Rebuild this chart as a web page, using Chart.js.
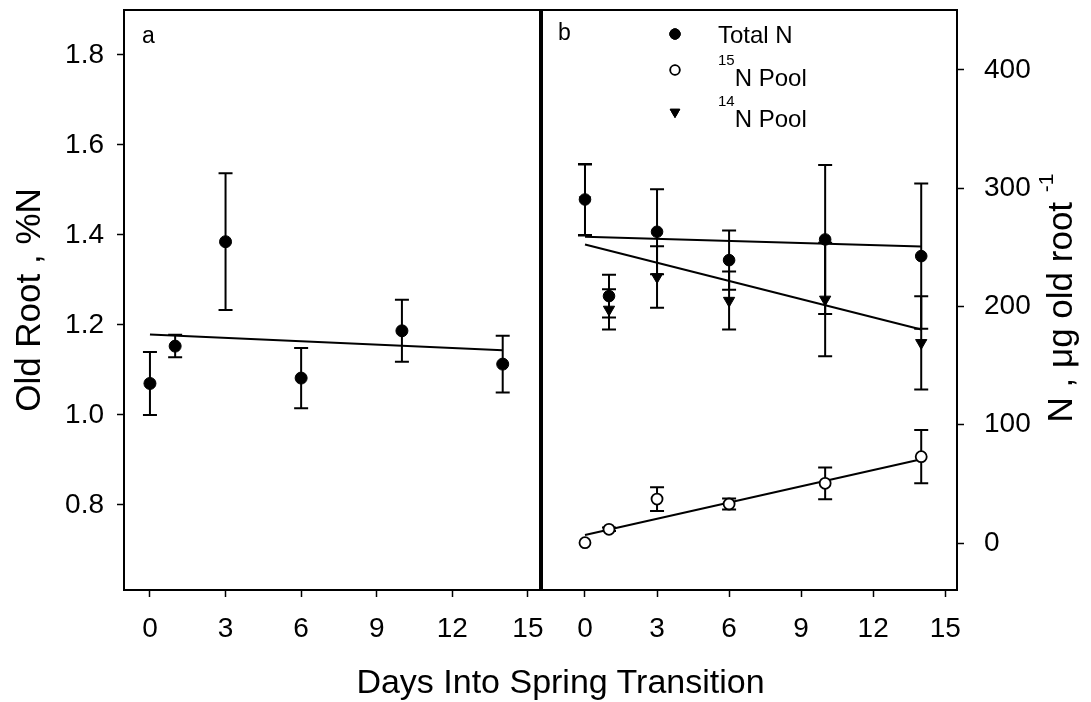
<!DOCTYPE html>
<html>
<head>
<meta charset="utf-8">
<script src="https://cdn.jsdelivr.net/npm/chart.js@4.4.1/dist/chart.umd.min.js"></script>
<style>
html,body{margin:0;padding:0;background:#fff;}
#wrap{position:relative;width:1091px;height:702px;overflow:hidden;background:#fff;}
#c1{position:absolute;left:0;top:0;}
#c2{position:absolute;left:520px;top:0;}
#xt{position:absolute;left:0;width:1121px;top:664px;line-height:1;text-align:center;font-family:"Liberation Sans",Arial,sans-serif;font-size:34px;color:#000;white-space:nowrap;}
</style>
</head>
<body>
<div id="wrap">
<canvas id="c1" width="560" height="702" style="width:560px;height:702px"></canvas>
<canvas id="c2" width="571" height="702" style="width:571px;height:702px"></canvas>
<div id="xt">Days Into Spring Transition</div>
</div>
<script>
// ---------- data ----------
const days = [0, 1, 3, 6, 10, 14];
const fitDays = [0, 14];
const xTicks = [0, 3, 6, 9, 12, 15];
const leftYTicks = [0.8, 1.0, 1.2, 1.4, 1.6, 1.8];
const rightYTicks = [0, 100, 200, 300, 400];

// panel a: old root %N
const pctN    = [1.070, 1.153, 1.385, 1.082, 1.187, 1.113];
const pctNErr = [0.070, 0.025, 0.152, 0.067, 0.069, 0.063];
const pctNFit = [1.179, 1.144];

// panel b: N, ug old root^-1
const totalN    = [290.5, 208.8, 263.2, 239.2, 256.7, 242.6];
const totalNErr = [30, 18, 36, 25, 63, 61.5];
const totalNFit = [258.9, 250.8];
const n15    = [0.3, 11.6, 37.2, 33.0, 50.5, 73.0];
const n15Err = [0, 1.5, 10, 4.7, 13.4, 22.5];
const n15Fit = [6.8, 70.8];
const n14    = [290.0, 197.5, 225.0, 205.0, 206.0, 169.3];
const n14Err = [30, 17, 26, 24.5, 48, 39.4];
const n14Fit = [252.5, 180.6];

const FONT = "'Liberation Sans', Arial, sans-serif";

function pts(xs, ys) { return xs.map((x, i) => ({x: x, y: ys[i]})); }

// ---------- plugins ----------
const errorBarPlugin = {
  id: 'errBars',
  beforeDatasetsDraw(chart) {
    const ctx = chart.ctx, ys = chart.scales.y, cap = 7;
    chart.data.datasets.forEach((ds, i) => {
      if (!ds.errors) return;
      const meta = chart.getDatasetMeta(i);
      ctx.save();
      ctx.strokeStyle = '#000';
      ctx.lineWidth = 2;
      meta.data.forEach((pt, j) => {
        const e = ds.errors[j];
        if (!e) return;
        const v = ds.data[j].y;
        const yT = ys.getPixelForValue(v + e), yB = ys.getPixelForValue(v - e);
        const x = pt.x;
        ctx.beginPath();
        ctx.moveTo(x, yT); ctx.lineTo(x, yB);
        ctx.moveTo(x - cap, yT); ctx.lineTo(x + cap, yT);
        ctx.moveTo(x - cap, yB); ctx.lineTo(x + cap, yB);
        ctx.stroke();
      });
      ctx.restore();
    });
  }
};

const framePlugin = {
  id: 'frame',
  afterDraw(chart) {
    const {ctx, chartArea: a} = chart;
    ctx.save();
    ctx.strokeStyle = '#000';
    ctx.lineWidth = 2;
    ctx.strokeRect(a.left, a.top, a.right - a.left, a.bottom - a.top);
    ctx.restore();
  }
};

function panelLabelPlugin(text, x, y) {
  return {
    id: 'panelLabel',
    afterDraw(chart) {
      const ctx = chart.ctx;
      ctx.save();
      ctx.fillStyle = '#000';
      ctx.font = '23px ' + FONT;
      ctx.textBaseline = 'alphabetic';
      ctx.fillText(text, x, y);
      ctx.restore();
    }
  };
}

const legendPlugin = {
  id: 'customLegend',
  afterDraw(chart) {
    const ctx = chart.ctx;
    const items = chart.data.datasets.filter(d => d.legendRow !== undefined);
    items.forEach(ds => {
      const r = ds.legendRow;
      ctx.save();
      Chart.helpers.drawPoint(ctx, {
        pointStyle: ds.pointStyle, rotation: ds.rotation || 0,
        radius: ds.legendRadius, borderWidth: ds.borderWidth
      }, r.mx, r.my);
      ctx.fillStyle = ds.pointBackgroundColor;
      ctx.strokeStyle = ds.pointBorderColor;
      ctx.lineWidth = ds.borderWidth;
      ctx.fill();
      ctx.stroke();
      ctx.restore();
      ctx.save();
      ctx.fillStyle = '#000';
      ctx.textBaseline = 'alphabetic';
      let x = r.tx;
      const m = ds.label.match(/^(\d+)(.*)$/);
      if (m) {
        ctx.font = '15px ' + FONT;
        ctx.fillText(m[1], x, r.sy);
        x += ctx.measureText(m[1]).width;
        ctx.font = '24px ' + FONT;
        ctx.fillText(m[2], x, r.ty);
      } else {
        ctx.font = '24px ' + FONT;
        ctx.fillText(ds.label, x, r.ty);
      }
      ctx.restore();
    });
  }
};

const rightTitlePlugin = {
  id: 'rightTitle',
  afterDraw(chart) {
    const ctx = chart.ctx;
    const main = 'N , \u03bcg old root ', sup = '-1';
    ctx.save();
    ctx.fillStyle = '#000';
    ctx.translate(542, 298);
    ctx.rotate(-Math.PI / 2);
    ctx.textBaseline = 'middle';
    ctx.font = '35px ' + FONT;
    const w1 = ctx.measureText(main).width;
    ctx.font = '21px ' + FONT;
    const w2 = ctx.measureText(sup).width;
    let x = -(w1 + w2) / 2;
    ctx.font = '35px ' + FONT;
    ctx.fillText(main, x, 0);
    ctx.font = '21px ' + FONT;
    ctx.fillText(sup, x + w1, -15);
    ctx.restore();
  }
};

function noPad(s) { s.paddingTop = 0; s.paddingBottom = 0; s.paddingLeft = 0; s.paddingRight = 0; }

// ---------- common scale options ----------
function xScale(min, max) {
  return {
    type: 'linear', min: min, max: max,
    afterBuildTicks: s => { s.ticks = xTicks.map(v => ({value: v})); },
    afterFit: s => { s.height = 112; noPad(s); },
    grid: {drawOnChartArea: false, drawTicks: true, tickLength: 7, tickWidth: 1.5, tickColor: '#000'},
    border: {display: false},
    ticks: {color: '#000', font: {family: FONT, size: 28}, padding: 15, maxRotation: 0, autoSkip: false}
  };
}

Chart.defaults.animation = false;

// ---------- panel a ----------
new Chart(document.getElementById('c1'), {
  type: 'scatter',
  data: {
    datasets: [
      {label: '%N', data: pts(days, pctN), errors: pctNErr, order: 1,
       pointStyle: 'circle', pointRadius: 6, pointBackgroundColor: '#000', pointBorderColor: '#000', borderWidth: 1},
      {type: 'line', label: 'fit', data: pts(fitDays, pctNFit), order: 10, showLine: true,
       borderColor: '#000', borderWidth: 2, pointRadius: 0, fill: false}
    ]
  },
  options: {
    responsive: false, devicePixelRatio: 1, animation: false,
    layout: {padding: {left: 0, right: 20, top: 10, bottom: 0}},
    plugins: {legend: {display: false}, tooltip: {enabled: false}},
    scales: {
      x: xScale(-1.03, 15.48),
      y: {
        type: 'linear', position: 'left', min: 0.611, max: 1.9,
        afterBuildTicks: s => { s.ticks = leftYTicks.map(v => ({value: v})); },
        afterFit: s => { s.width = 124; noPad(s); },
        grid: {drawOnChartArea: false, drawTicks: true, tickLength: 7, tickWidth: 1.5, tickColor: '#000'},
        border: {display: false},
        ticks: {color: '#000', font: {family: FONT, size: 28}, padding: 13,
                callback: v => Number(v).toFixed(1)},
        title: {display: true, text: 'Old Root , %N', color: '#000',
                font: {family: FONT, size: 35}, padding: {top: 9, bottom: 0}}
      }
    }
  },
  plugins: [errorBarPlugin, framePlugin, panelLabelPlugin('a', 142, 43)]
});

// ---------- panel b ----------
new Chart(document.getElementById('c2'), {
  type: 'scatter',
  data: {
    datasets: [
      {label: 'Total N', data: pts(days, totalN), errors: totalNErr, order: 1,
       pointStyle: 'circle', pointRadius: 5.8, legendRadius: 5.2, pointBackgroundColor: '#000', pointBorderColor: '#000', borderWidth: 1,
       legendRow: {mx: 155, my: 34, tx: 198, ty: 43, sy: 43}},
      {label: '15N Pool', data: pts(days, n15), errors: n15Err, order: 2,
       pointStyle: 'circle', pointRadius: 5.5, legendRadius: 4.8, pointBackgroundColor: '#fff', pointBorderColor: '#000', borderWidth: 1.8,
       legendRow: {mx: 155, my: 70, tx: 198, ty: 86, sy: 65}},
      {label: '14N Pool', data: pts(days, n14), errors: n14Err, order: 3,
       pointStyle: 'triangle', rotation: 180, pointRadius: 6.5, legendRadius: 5.5, pointBackgroundColor: '#000', pointBorderColor: '#000', borderWidth: 1,
       legendRow: {mx: 155, my: 112, tx: 198, ty: 127, sy: 106}},
      {type: 'line', label: 'fitTotal', data: pts(fitDays, totalNFit), order: 10, showLine: true,
       borderColor: '#000', borderWidth: 2, pointRadius: 0, fill: false},
      {type: 'line', label: 'fit15', data: pts(fitDays, n15Fit), order: 10, showLine: true,
       borderColor: '#000', borderWidth: 2, pointRadius: 0, fill: false},
      {type: 'line', label: 'fit14', data: pts(fitDays, n14Fit), order: 10, showLine: true,
       borderColor: '#000', borderWidth: 2, pointRadius: 0, fill: false}
    ]
  },
  options: {
    responsive: false, devicePixelRatio: 1, animation: false,
    layout: {padding: {left: 22, right: 0, top: 10, bottom: 0}},
    plugins: {legend: {display: false}, tooltip: {enabled: false}},
    scales: {
      x: xScale(-1.79, 15.49),
      y: {
        type: 'linear', position: 'right', min: -39.7, max: 450.7,
        afterBuildTicks: s => { s.ticks = rightYTicks.map(v => ({value: v})); },
        afterFit: s => { s.width = 134; noPad(s); },
        grid: {drawOnChartArea: false, drawTicks: true, tickLength: 7, tickWidth: 1.5, tickColor: '#000'},
        border: {display: false},
        ticks: {color: '#000', font: {family: FONT, size: 28}, padding: 20}
      }
    }
  },
  plugins: [errorBarPlugin, framePlugin, legendPlugin, rightTitlePlugin, panelLabelPlugin('b', 38, 40)]
});
</script>
</body>
</html>
